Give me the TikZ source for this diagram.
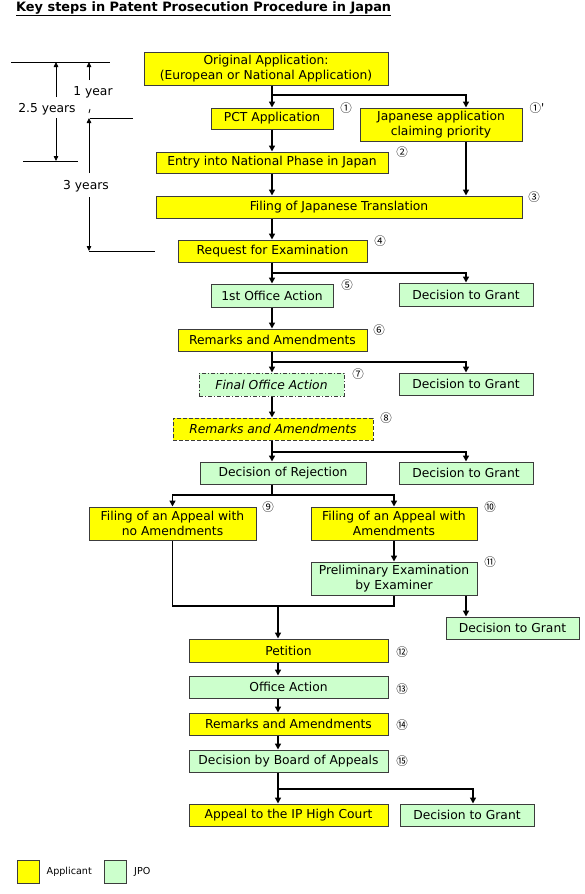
\documentclass[tikz,border=0pt]{standalone}
\usepackage{fontspec}
\setmainfont{DejaVu Sans}
\newfontfamily\stepfont{Noto Sans CJK JP}
\usepackage{tikz}
\usetikzlibrary{positioning,arrows.meta}
\usepackage{xcolor}
\definecolor{appyellow}{RGB}{255, 255, 0}
\definecolor{jpogreen}{RGB}{204, 255, 204}
\definecolor{boxline}{RGB}{60, 60, 60}

\begin{document}
\begin{tikzpicture}[
    x=1pt, y=-1pt,
    font=\fontsize{12.3}{14.5}\selectfont,
    >={Triangle[length=6pt,width=6pt]},
    box/.style={draw=boxline, line width=1pt, rectangle, align=center, inner sep=0pt},
    applicant/.style={box, fill=appyellow},
    jpo/.style={box, fill=jpogreen},
    flow/.style={->, line width=1.6pt},
    span/.style={line width=0.8pt},
    spanarrow/.style={span, -{Triangle[length=5pt,width=4.5pt]}},
    stepno/.style={inner sep=0pt, font=\stepfont\fontsize{11.5}{11.5}\selectfont},
    keytext/.style={inner sep=0pt, font=\fontsize{9.6}{11}\selectfont},
  ]
    \useasboundingbox (0,0) rectangle (584,894);

    % Title
    \node[anchor=west, inner sep=0pt, font=\fontsize{12.9}{15}\selectfont\bfseries] (title) at (16,9)
      {\underline{Key steps in Patent Prosecution Procedure in Japan}};

    % Filing and national phase
    \node[applicant, minimum width=244, minimum height=33] (orig) at (266,68.5)
      {Original Application:\\(European or National Application)};
    \node[applicant, minimum width=122, minimum height=21] (pct) at (272,118.5) {PCT Application};
    \node[applicant, minimum width=162, minimum height=33] (jpapp) at (441,124.5)
      {Japanese application\\claiming priority};
    \node[applicant, minimum width=232, minimum height=21] (entry) at (272,162.5)
      {Entry into National Phase in Japan};
    \node[applicant, minimum width=366, minimum height=22] (transl) at (339,207)
      {Filing of Japanese Translation};
    \node[applicant, minimum width=189, minimum height=22] (exreq) at (272.5,251)
      {Request for Examination};

    % Examination
    \node[jpo, minimum width=122, minimum height=23] (oa1) at (272,295.5) {1st Office Action};
    \node[jpo, minimum width=134, minimum height=23] (grant1) at (466,294.5) {Decision to Grant};
    \node[applicant, minimum width=189, minimum height=22] (rem1) at (272.5,340)
      {Remarks and Amendments};
    \node[jpo, dash pattern=on 4pt off 2pt on 1pt off 2pt, minimum width=145, minimum height=23]
      (finaloa) at (271.5,384.5) {\textit{Final Office Action}};
    \node[jpo, minimum width=134, minimum height=22] (grant2) at (466,384) {Decision to Grant};
    \node[applicant, dash pattern=on 4pt off 2pt, minimum width=200, minimum height=22]
      (rem2) at (273,429) {\textit{Remarks and Amendments}};
    \node[jpo, minimum width=166, minimum height=22] (reject) at (283,473) {Decision of Rejection};
    \node[jpo, minimum width=134, minimum height=22] (grant3) at (466,473) {Decision to Grant};

    % Appeal
    \node[applicant, minimum width=167, minimum height=33] (appeal1) at (172.5,523.5)
      {Filing of an Appeal with\\no Amendments};
    \node[applicant, minimum width=166, minimum height=33] (appeal2) at (394,523.5)
      {Filing of an Appeal with\\Amendments};
    \node[jpo, minimum width=166, minimum height=33] (prelim) at (394,578.5)
      {Preliminary Examination\\by Examiner};
    \node[jpo, minimum width=133, minimum height=22] (grant4) at (512.5,628) {Decision to Grant};
    \node[applicant, minimum width=199, minimum height=23] (petition) at (288.5,650.5) {Petition};
    \node[jpo, minimum width=199, minimum height=22] (oa2) at (288.5,687) {Office Action};
    \node[applicant, minimum width=199, minimum height=22] (rem3) at (288.5,724)
      {Remarks and Amendments};
    \node[jpo, minimum width=199, minimum height=22] (board) at (288.5,761)
      {Decision by Board of Appeals};
    \node[applicant, minimum width=199, minimum height=22] (ipcourt) at (288.5,815)
      {Appeal to the IP High Court};
    \node[jpo, minimum width=134, minimum height=22] (grant5) at (467,815) {Decision to Grant};

    % Step numbers
    \node[stepno] (s1) at (346,108) {①};
    \node[stepno] (s1b) at (537,108) {①'};
    \node[stepno] (s2) at (402,152) {②};
    \node[stepno] (s3) at (534,197) {③};
    \node[stepno] (s4) at (380,241) {④};
    \node[stepno] (s5) at (347,285) {⑤};
    \node[stepno] (s6) at (379,330) {⑥};
    \node[stepno] (s7) at (358,374) {⑦};
    \node[stepno] (s8) at (386,418) {⑧};
    \node[stepno] (s9) at (268,507) {⑨};
    \node[stepno] (s10) at (490,507) {⑩};
    \node[stepno] (s11) at (490,562) {⑪};
    \node[stepno] (s12) at (402,652) {⑫};
    \node[stepno] (s13) at (402,689) {⑬};
    \node[stepno] (s14) at (402,725) {⑭};
    \node[stepno] (s15) at (402,761) {⑮};

    % Branch points
    \coordinate (fork1) at (466,95);
    \coordinate (fork2) at (466,273);
    \coordinate (fork3) at (466,362);
    \coordinate (fork4) at (466,452);
    \coordinate (fork5) at (272,495);
    \coordinate (join1) at (278,606);
    \coordinate (fork6) at (473,789);

    \draw[flow] (orig.south -| pct.north) -- (pct.north);
    \draw[flow] (orig.south -| pct.north) |- (fork1) -- (fork1 |- jpapp.north);
    \draw[flow] (pct) -- (entry);
    \draw[flow] (entry.south) -- (entry.south |- transl.north);
    \draw[flow] (jpapp.south -| fork1) -- (transl.north -| fork1);
    \draw[flow] (transl.south -| oa1) -- (exreq.north -| oa1);
    \draw[flow] (exreq.south -| oa1) -- (oa1.north);
    \draw[flow] (exreq.south -| oa1) |- (fork2) -- (grant1.north);
    \draw[flow] (oa1.south) -- (rem1.north -| oa1);
    \draw[flow] (rem1.south -| oa1) -- (finaloa.north -| oa1);
    \draw[flow] (rem1.south -| oa1) |- (fork3) -- (grant2.north);
    \draw[flow] (finaloa.south -| oa1) -- (rem2.north -| oa1);
    \draw[flow] (rem2.south -| oa1) -- (reject.north -| oa1);
    \draw[flow] (rem2.south -| oa1) |- (fork4) -- (grant3.north);
    \draw[flow] (reject.south -| fork5) -- (fork5) -| (appeal1.north);
    \draw[flow] (fork5) -| (appeal2.north);
    \draw[flow] (appeal2) -- (prelim);
    \draw[line width=1.6pt] (appeal1.south) |- (join1) -| (prelim.south);
    \draw[flow] ([xshift=72]prelim.south) -- ([xshift=72]prelim.south |- grant4.north);
    \draw[flow] (join1) -- (petition.north -| join1);
    \draw[flow] (petition.south -| join1) -- (oa2.north -| join1);
    \draw[flow] (oa2.south -| join1) -- (rem3.north -| join1);
    \draw[flow] (rem3.south -| join1) -- (board.north -| join1);
    \draw[flow] (board.south -| join1) -- (ipcourt.north -| join1);
    \draw[flow] (board.south -| join1) |- (fork6) -- (grant5.north -| fork6);

    % Time limits
    \node[inner sep=0pt] (yr1) at (93,92) {1 year};
    \node[inner sep=0pt] (yr25) at (47,109) {2.5 years};
    \node[inner sep=0pt] (yr3) at (86,186) {3 years};
    \draw[span] (11,62) -- (110,62);
    \draw[span] (23,161) -- (78,161);
    \draw[span] (90,118) -- (133,118);
    \draw[span] (89,251) -- (155,251);
    \draw[spanarrow] (56,97) -- (56,62);
    \draw[spanarrow] (56,118) -- (56,161);
    \draw[spanarrow] (89,80) -- (89,62);
    \draw[span] (90,109) -- (89,113);
    \draw[spanarrow] (89,173) -- (89,118);
    \draw[spanarrow] (89,197) -- (89,251);

    % Legend
    \node[applicant, minimum width=22, minimum height=23] (keyapp) at (28,872) {};
    \node[keytext, right=7pt of keyapp] (keyapptxt) {Applicant};
    \node[jpo, minimum width=22, minimum height=23] (keyjpo) at (115.5,872) {};
    \node[keytext, right=7pt of keyjpo] (keyjpotxt) {JPO};
\end{tikzpicture}
\end{document}
